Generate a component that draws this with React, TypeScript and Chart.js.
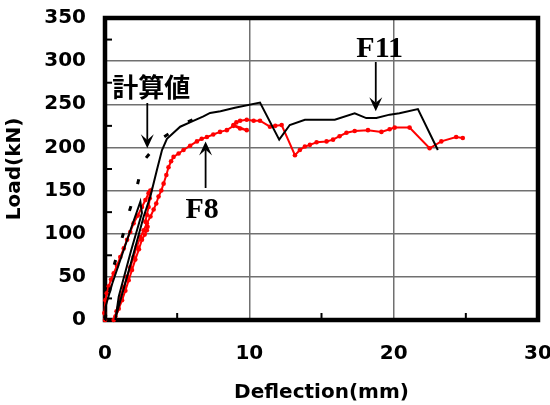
import React, { useEffect, useRef } from 'react';
import { Chart, registerables } from 'chart.js';
Chart.register(...registerables);

// F11 (black, measured)
const f11X = [0, 0.03, 0.5, 1.06, 1.76, 2.45, 2.56, 1.8, 0.95, 0.72, 0.85, 1.41, 1.98, 2.68, 3.14, 3.6, 3.95, 4.29, 5.21, 6.0, 6.82, 7.28, 8.0, 9.0, 10.74, 12.07, 12.8, 13.85, 15.92, 17.3, 18.1, 18.8, 19.72, 20.4, 21.68, 23.06];
const f11Y = [0, 15, 42, 69.5, 104, 137, 124, 80, 27, 0, 10, 43, 77, 120, 143, 174, 197, 210, 224, 230, 236, 240, 242, 246, 252, 209, 226, 232, 232, 239.5, 234, 234, 238, 239.5, 244.5, 197];

// F8 (red, measured with markers)
const f8X = [0, -0.05, 0.03, 0.12, 0.26, 0.42, 0.6, 0.83, 1.06, 1.3, 1.53, 1.75, 1.98, 2.27, 2.56, 2.8, 3.02, 3.14,
  3.1, 3.02, 2.9, 2.8, 2.95, 2.9, 2.75, 2.56, 2.35, 2.1, 1.87, 1.64, 1.41, 1.18, 0.95, 0.72, 0.6,
  0.8, 1.06, 1.3, 1.53, 1.75, 1.98, 2.2, 2.45, 2.68, 2.9, 3.15, 3.37, 3.55, 3.71, 3.9, 4.06, 4.25, 4.4, 4.58, 4.75, 5.1, 5.44, 5.9, 6.37, 6.7, 7.06, 7.5, 7.97, 8.44, 8.9, 9.36, 9.82,
  8.9, 9.1, 9.36, 9.82, 10.3, 10.74, 11.43, 11.8, 12.24, 13.16, 13.5, 13.85, 14.2, 14.66, 15.35, 15.8, 16.25, 16.73, 17.3, 18.22, 19.15, 19.72, 20.07, 21.1, 22.49, 23.3, 24.33, 24.79];
const f8Y = [0, 8, 23, 31, 39, 47, 54, 63, 73, 83, 93, 102, 112, 121, 131, 139, 147, 150,
  141, 131, 122, 114, 108, 104, 99, 93, 82, 70, 58, 46, 34, 23, 13, 4, 0,
  10, 27, 38, 50, 61, 73, 85, 96, 104, 112, 120, 128, 135, 143, 150, 158, 168, 177, 184, 189, 193, 197, 202, 207, 210, 212, 215, 218, 220, 225, 222, 220,
  226, 229, 231, 232, 231, 231, 224, 225, 226, 191, 197, 201, 203, 206, 207, 209, 213, 217, 219, 220, 218, 221, 223, 223, 199, 207, 212, 211];

// 計算値 (calculated, dashed black)
const calcX = [0, 0.6, 1.18, 1.64, 2.17, 2.63, 3.97, 5.56, 7.15];
const calcY = [0, 61.8, 94.7, 123.6, 151.4, 183.5, 211, 228, 241];

const xTickValues = [0, 10, 20, 30];
const yTickValues = [0, 50, 100, 150, 200, 250, 300, 350];
const xMinorTicks = [5, 15, 25];
const yMinorTicks = [25, 75, 125, 175, 225, 275, 325];

// annotation labels (data coordinates) and arrows (x, from y, to y = tip)
const labelTexts = ['F11', '計算値', 'F8'];
const labelX = [19.03, 3.2, 6.73];
const labelY = [314, 270, 127.5];
const labelFonts = ['bold 30px "Liberation Serif"', 'bold 26px "Noto Sans CJK JP"', 'bold 30px "Liberation Serif"'];
const arrowX = [18.76, 2.93, 6.97];
const arrowFrom = [299, 251.5, 153];
const arrowTo = [242, 199, 207];

const toPts = (xs: number[], ys: number[]) => xs.map((x, i) => ({ x, y: ys[i] }));

const framePlugin = {
  id: 'framePlugin',
  beforeDatasetsDraw(chart: any) {
    const { ctx, chartArea: a, scales } = chart;
    ctx.save();
    ctx.strokeStyle = '#000';
    ctx.lineWidth = 2;
    yMinorTicks.forEach((v) => {
      const y = scales.y.getPixelForValue(v);
      ctx.beginPath();
      ctx.moveTo(a.left, y);
      ctx.lineTo(a.left + 7, y);
      ctx.stroke();
    });
    xMinorTicks.forEach((v) => {
      const x = scales.x.getPixelForValue(v);
      ctx.beginPath();
      ctx.moveTo(x, a.bottom);
      ctx.lineTo(x, a.bottom - 7);
      ctx.stroke();
    });
    ctx.lineWidth = 4.5;
    ctx.strokeRect(a.left, a.top, a.right - a.left, a.bottom - a.top);
    ctx.restore();
  },
  afterDatasetsDraw(chart: any) {
    const { ctx, scales } = chart;
    ctx.save();
    ctx.fillStyle = '#000';
    ctx.strokeStyle = '#000';
    labelTexts.forEach((t, i) => {
      ctx.font = labelFonts[i];
      ctx.textAlign = 'center';
      ctx.textBaseline = 'middle';
      ctx.fillText(t, scales.x.getPixelForValue(labelX[i]), scales.y.getPixelForValue(labelY[i]));
    });
    arrowX.forEach((ax, i) => {
      const x = scales.x.getPixelForValue(ax);
      const y1 = scales.y.getPixelForValue(arrowFrom[i]);
      const y2 = scales.y.getPixelForValue(arrowTo[i]);
      const dir = y2 > y1 ? 1 : -1;
      const hl = 14;
      const hw = 6.5;
      ctx.lineWidth = 1.8;
      ctx.beginPath();
      ctx.moveTo(x, y1);
      ctx.lineTo(x, y2 - dir * hl * 0.6);
      ctx.stroke();
      ctx.beginPath();
      ctx.moveTo(x, y2);
      ctx.lineTo(x - hw, y2 - dir * hl);
      ctx.lineTo(x, y2 - dir * hl * 0.6);
      ctx.lineTo(x + hw, y2 - dir * hl);
      ctx.closePath();
      ctx.fill();
    });
    ctx.restore();
  },
};

export default function App() {
  const ref = useRef<HTMLCanvasElement | null>(null);
  useEffect(() => {
    if (!ref.current) return;
    const tickFont = { family: '"DejaVu Sans"', size: 20, weight: 'bold' as const };
    const chart = new Chart(ref.current, {
      type: 'scatter',
      data: {
        datasets: [
          {
            label: 'F11',
            data: toPts(f11X, f11Y),
            showLine: true,
            borderColor: '#000',
            borderWidth: 2,
            pointRadius: 0,
            tension: 0,
            clip: false as any,
          },
          {
            label: '計算値',
            data: toPts(calcX, calcY),
            showLine: true,
            borderColor: '#000',
            borderWidth: 3,
            borderDash: [5, 23],
            pointRadius: 0,
            tension: 0,
            clip: false as any,
          },
          {
            label: 'F8',
            data: toPts(f8X, f8Y),
            showLine: true,
            borderColor: '#ff0000',
            borderWidth: 2,
            pointRadius: 2.3,
            pointBackgroundColor: '#ff0000',
            pointBorderWidth: 0,
            tension: 0,
            clip: false as any,
          },
        ],
      },
      options: {
        animation: false,
        responsive: false,
        maintainAspectRatio: false,
        layout: { padding: { left: 0, top: 18, right: 12, bottom: 0 } },
        plugins: { legend: { display: false }, tooltip: { enabled: false } },
        scales: {
          x: {
            type: 'linear',
            min: 0,
            max: 30,
            afterFit: (s: any) => { s.height = 85; s.paddingLeft = 0; s.paddingRight = 0; },
            afterBuildTicks: (s: any) => { s.ticks = xTickValues.map((v) => ({ value: v })); },
            ticks: { font: tickFont, color: '#000', padding: 22, callback: (v: any) => String(v) },
            grid: { color: '#707070', lineWidth: 1.5, drawTicks: false },
            border: { display: false },
            title: { display: true, text: 'Deflection(mm)', font: tickFont, color: '#000', padding: { top: 0, bottom: 0 } },
          },
          y: {
            type: 'linear',
            min: 0,
            max: 350,
            afterFit: (s: any) => { s.width = 105; s.paddingTop = 0; s.paddingBottom = 0; },
            afterBuildTicks: (s: any) => { s.ticks = yTickValues.map((v) => ({ value: v })); },
            ticks: { font: tickFont, color: '#000', padding: 19, callback: (v: any) => String(v) },
            grid: { color: '#707070', lineWidth: 1.5, drawTicks: false },
            border: { display: false },
            title: { display: true, text: 'Load(kN)', font: tickFont, color: '#000', padding: { top: 3, bottom: 0 } },
          },
        },
      },
      plugins: [framePlugin],
    });
    return () => chart.destroy();
  }, []);
  return (
    <div style={{ position: 'fixed', left: 0, top: 0, width: 550, height: 405, background: '#fff' }}>
      <canvas ref={ref} width={550} height={405} style={{ width: 550, height: 405 }} />
    </div>
  );
}
